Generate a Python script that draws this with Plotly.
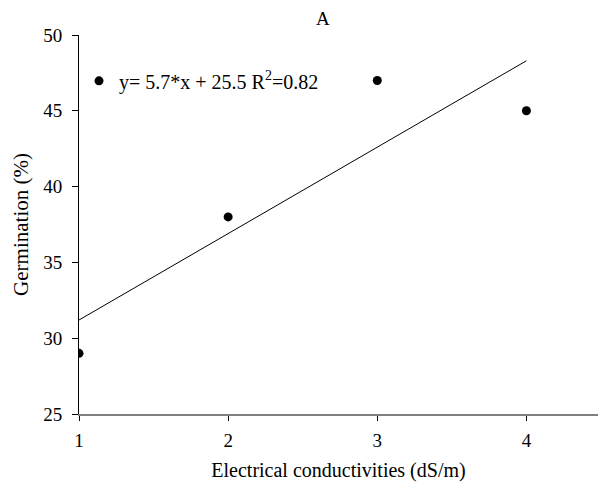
import plotly.graph_objects as go

ec = [1, 2, 3, 4]
germination = [29, 38, 47, 45]
slope = 5.7
intercept = 25.5
r2 = 0.82
fit_x = [1, 4]
fit_y = [slope * x + intercept for x in fit_x]
x_ticks = [1, 2, 3, 4]
y_ticks = [25, 30, 35, 40, 45, 50]

font_family = "Liberation Serif, Times New Roman, serif"

fig = go.Figure()
fig.add_trace(go.Scatter(
    x=ec, y=germination, mode="markers",
    marker=dict(color="black", size=9),
    name=f"y= {slope}*x + {intercept} R<sup>2</sup>={r2}",
    showlegend=True,
))
fig.add_trace(go.Scatter(
    x=fit_x, y=fit_y, mode="lines",
    line=dict(color="black", width=1),
    showlegend=False,
))

fig.update_layout(
    width=599, height=489,
    margin=dict(l=79, r=1, t=35, b=75),
    paper_bgcolor="white", plot_bgcolor="white",
    font=dict(family=font_family, size=19, color="black"),
    title=dict(text="A", x=0.539, xanchor="center", y=0.962, yanchor="middle",
               font=dict(size=19, family=font_family)),
    showlegend=True,
    legend=dict(x=-0.0, y=0.879, xanchor="left", yanchor="middle",
                bgcolor="rgba(0,0,0,0)", font=dict(size=20, family=font_family),
                itemwidth=30),
    xaxis=dict(
        range=[1, 4.48], tickvals=x_ticks, ticktext=[str(v) for v in x_ticks],
        showline=True, linecolor="#808080", linewidth=2,
        ticks="outside", ticklen=5, tickcolor="black", tickwidth=1,
        showgrid=False, zeroline=False, automargin=False,
        tickfont=dict(size=19, family=font_family),
        ticklabelstandoff=3,
        title=dict(text="Electrical conductivities (dS/m)", standoff=13,
                   font=dict(size=20, family=font_family)),
    ),
    yaxis=dict(
        range=[25, 50], tickvals=y_ticks, ticktext=[str(v) for v in y_ticks],
        showline=True, linecolor="black", linewidth=1,
        ticks="outside", ticklen=6, tickcolor="black", tickwidth=1,
        showgrid=False, zeroline=False, automargin=False,
        tickfont=dict(size=19, family=font_family),
        ticklabelstandoff=6,
        title=dict(text="Germination (%)", standoff=8,
                   font=dict(size=21, family=font_family)),
    ),
)

fig.write_html("out.html", config={"displayModeBar": False},
               post_script="document.body.style.margin='0';")
